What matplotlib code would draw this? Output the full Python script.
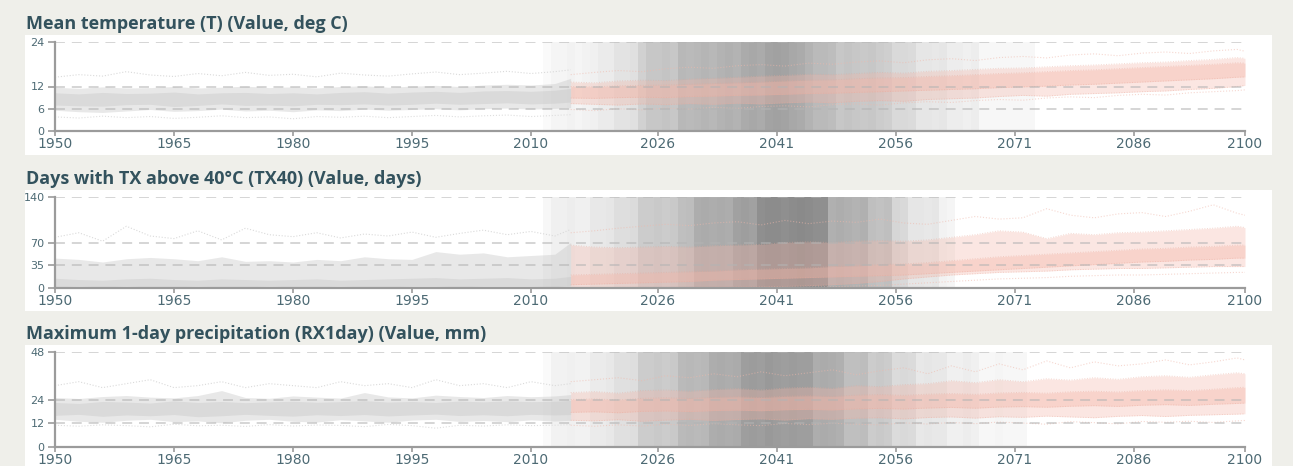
import matplotlib
matplotlib.use("Agg")
import matplotlib.pyplot as plt

W, H = 1293, 466
BG = "#efefea"
TITLE_C = "#33525d"
TICK_C = "#4d6a74"
AXIS_C = "#9b9b9b"

# ---------------------------------------------------------------- data
HIST_YEARS = [1950, 1953, 1956, 1959, 1962, 1965, 1968, 1971, 1974, 1977, 1980, 1983,
              1986, 1989, 1992, 1995, 1998, 2001, 2004, 2007, 2010, 2013, 2015]
PROJ_YEARS = [2015, 2018, 2021, 2024, 2027, 2030, 2033, 2036, 2039, 2042, 2045, 2048,
              2051, 2054, 2057, 2060, 2063, 2066, 2069, 2072, 2075, 2078, 2081, 2084,
              2087, 2090, 2093, 2096, 2099, 2100]
SHADE_YEARS = [2011, 2012, 2013, 2014, 2015, 2016, 2017, 2018, 2019, 2020, 2021, 2022,
               2023, 2024, 2025, 2026, 2027, 2028, 2029, 2030, 2031, 2032, 2033, 2034,
               2035, 2036, 2037, 2038, 2039, 2040, 2041, 2042, 2043, 2044, 2045, 2046,
               2047, 2048, 2049, 2050, 2051, 2052, 2053, 2054, 2055, 2056, 2057, 2058,
               2059, 2060, 2061, 2062, 2063, 2064, 2065, 2066, 2067, 2068, 2069, 2070,
               2071, 2072, 2073, 2074]
X_TICKS = [1950, 1965, 1980, 1995, 2010, 2026, 2041, 2056, 2071, 2086, 2100]

# Mean temperature (deg C)
T_title = "Mean temperature (T) (Value, deg C)"
T_yticks = [0, 6, 12, 24]
T_hist_outer_lo = [5.6, 5.2, 5.0, 5.4, 5.8, 5.3, 5.5, 5.9, 5.4, 5.6, 5.2, 5.7, 5.5, 5.9, 5.6, 5.8, 6.0, 5.7, 6.0, 6.2, 5.9, 6.1, 6.3]
T_hist_outer_hi = [11.8, 11.5, 11.9, 11.6, 11.7, 12.0, 11.6, 11.8, 12.1, 11.7, 11.9, 11.6, 12.0, 12.2, 11.8, 12.1, 12.3, 12.0, 12.4, 12.6, 12.4, 12.8, 14.2]
T_hist_inner_lo = [7.0, 6.8, 6.7, 7.1, 7.2, 6.6, 6.9, 7.3, 6.9, 7.0, 6.8, 7.2, 7.1, 7.3, 7.0, 7.2, 7.5, 7.2, 7.4, 7.6, 7.3, 7.5, 7.8]
T_hist_inner_hi = [10.3, 10.0, 10.4, 10.1, 10.2, 10.5, 10.0, 10.3, 10.4, 10.1, 10.3, 10.0, 10.4, 10.6, 10.2, 10.5, 10.7, 10.4, 10.8, 10.9, 10.7, 11.0, 11.5]
T_hist_top = [14.5, 15.2, 14.8, 16.0, 15.1, 14.7, 15.5, 14.9, 15.8, 15.0, 15.3, 14.6, 15.6, 15.1, 14.8, 15.4, 15.9, 15.2, 15.6, 16.1, 15.5, 16.0, 16.5]
T_hist_bot = [3.8, 3.5, 4.0, 3.6, 3.9, 3.4, 3.7, 4.1, 3.6, 3.8, 3.3, 3.9, 3.7, 4.0, 3.6, 3.9, 4.2, 3.8, 4.1, 4.3, 3.9, 4.2, 4.4]
T_proj_outer_lo = [7.4, 7.2, 7.0, 7.3, 7.1, 7.4, 7.2, 7.5, 7.3, 7.6, 7.8, 7.6, 8.0, 8.2, 8.0, 8.5, 8.7, 8.9, 9.3, 9.6, 9.4, 9.9, 10.1, 10.3, 10.6, 10.8, 11.2, 11.5, 12.0, 12.3]
T_proj_outer_hi = [13.2, 13.0, 13.5, 13.7, 13.6, 14.0, 14.2, 14.5, 14.8, 15.0, 15.3, 15.2, 15.5, 15.8, 15.6, 16.1, 16.3, 16.6, 16.9, 17.0, 17.3, 17.6, 17.8, 18.1, 18.4, 18.6, 19.0, 19.3, 19.8, 19.6]
T_proj_inner_lo = [8.9, 8.8, 9.0, 9.1, 9.0, 9.3, 9.4, 9.6, 9.7, 9.9, 10.1, 10.2, 10.4, 10.6, 10.8, 11.0, 11.2, 11.4, 11.7, 11.9, 12.1, 12.4, 12.6, 12.9, 13.2, 13.5, 13.8, 14.1, 14.5, 14.6]
T_proj_inner_hi = [12.0, 11.9, 12.2, 12.3, 12.4, 12.6, 12.8, 13.0, 13.2, 13.5, 13.7, 13.8, 14.1, 14.3, 14.4, 14.7, 14.9, 15.2, 15.5, 15.7, 16.0, 16.3, 16.5, 16.8, 17.1, 17.4, 17.7, 18.0, 18.4, 18.3]
T_proj_top = [15.2, 15.8, 16.3, 16.0, 16.8, 17.2, 16.9, 17.6, 17.9, 17.5, 18.3, 18.0, 18.6, 18.9, 18.4, 19.2, 19.5, 19.0, 19.8, 20.1, 19.7, 20.5, 20.8, 20.3, 21.0, 21.3, 20.9, 21.6, 22.0, 21.5]
T_proj_bot = [5.8, 5.5, 6.0, 5.7, 6.2, 5.9, 6.4, 6.1, 6.6, 6.8, 6.5, 7.1, 7.3, 7.0, 7.6, 7.9, 7.7, 8.2, 8.5, 8.3, 8.9, 9.2, 9.0, 9.6, 9.9, 9.7, 10.3, 10.6, 10.9, 11.1]
T_shade = [0, .02, .04, .04, .05, .04, .05, .06, .08, .08, .11, .11, .12, .18, .22, .22,
           .23, .22, .28, .27, .28, .29, .28, .30, .31, .30, .33, .34, .33, .36, .37, .36,
           .34, .33, .30, .27, .27, .26, .22, .23, .22, .21, .22, .20, .19, .15, .15, .14,
           .10, .10, .09, .10, .07, .07, .06, .07, .03, .03, .03, .03, .03, .03, .03, 0]

# Days with TX above 40C (days)
X_title = "Days with TX above 40°C (TX40) (Value, days)"
X_yticks = [0, 35, 70, 140]
X_hist_outer_lo = [0.3] * 23
X_hist_outer_hi = [46, 44, 40, 45, 47, 45, 42, 48, 41, 42, 40, 44, 42, 48, 45, 44, 56, 52, 54, 48, 50, 52, 70]
X_hist_inner_lo = [2, 3, 2, 3, 2, 2, 3, 2, 2, 3, 2, 2, 3, 2, 2, 3, 3, 2, 3, 3, 3, 2, 4]
X_hist_inner_hi = [15, 13, 12, 14, 15, 13, 12, 14, 13, 12, 13, 14, 12, 13, 14, 15, 16, 14, 15, 16, 14, 15, 18]
X_hist_top = [78, 85, 72, 95, 80, 76, 88, 74, 92, 82, 79, 85, 77, 83, 80, 86, 78, 84, 89, 82, 87, 80, 90]
X_hist_bot = [0.5] * 23
X_proj_outer_lo = [0.5, 0.5, 0.8, 1.0, 1.0, 1.2, 1.5, 1.8, 2.0, 2.5, 3.5, 5, 7, 10, 14, 17, 20, 22, 24, 25, 26, 28, 29, 30, 30, 31, 32, 33, 33, 33]
X_proj_outer_hi = [66, 63, 62, 63, 64, 63, 65, 66, 67, 70, 71, 70, 72, 73, 72, 74, 78, 82, 88, 86, 76, 84, 82, 85, 86, 88, 90, 92, 95, 93]
X_proj_inner_lo = [5, 6, 7, 8, 9, 10, 12, 13, 14, 15, 16, 17, 18, 19, 20, 22, 24, 26, 28, 30, 32, 34, 36, 38, 40, 41, 43, 44, 46, 46]
X_proj_inner_hi = [20, 21, 22, 23, 24, 25, 26, 28, 29, 30, 31, 33, 34, 36, 37, 39, 42, 45, 48, 50, 52, 54, 56, 58, 60, 61, 63, 64, 66, 66]
X_proj_top = [85, 88, 92, 95, 98, 96, 100, 102, 97, 104, 99, 103, 101, 106, 100, 98, 104, 110, 106, 108, 122, 112, 108, 114, 116, 110, 118, 128, 115, 112]
X_proj_bot = [0.5, 0.5, 0.5, 0.6, 0.6, 0.8, 0.8, 1.0, 1.0, 1.2, 1.5, 2, 3, 4, 6, 8, 10, 12, 14, 15, 16, 18, 19, 20, 20, 21, 22, 23, 24, 24]
X_shade = [0, .03, .06, .06, .07, .06, .06, .09, .09, .10, .13, .13, .14, .20, .20, .21,
           .20, .21, .25, .26, .32, .33, .32, .33, .32, .37, .38, .37, .44, .45, .45, .44,
           .45, .46, .45, .44, .44, .31, .32, .31, .30, .31, .25, .24, .25, .16, .15, .10,
           .10, .09, .10, .05, .04, 0, 0, 0, 0, 0, 0, 0, 0, 0, 0, 0]

# Maximum 1-day precipitation (mm)
R_title = "Maximum 1-day precipitation (RX1day) (Value, mm)"
R_yticks = [0, 12, 24, 48]
R_hist_outer_lo = [14, 13, 12.5, 13.5, 14, 12.8, 13.2, 12.2, 13.5, 14, 13, 12.6, 13.8, 13.2, 12.5, 13.6, 14, 12.9, 13.4, 12.8, 13.7, 13.1, 13.5]
R_hist_outer_hi = [25, 24.5, 25.5, 26, 25.2, 24.8, 26, 28.5, 25, 24.6, 25.8, 25.2, 24.7, 27.5, 25.3, 24.8, 26.2, 25.5, 25, 26, 25.4, 25.8, 26.5]
R_hist_inner_lo = [16, 16.5, 15.5, 16.2, 15.8, 16.4, 15.3, 15.8, 16.5, 16, 15.6, 16.3, 15.9, 16.4, 15.7, 16.2, 16.6, 15.9, 16.3, 15.8, 16.5, 16.2, 16.4]
R_hist_inner_hi = [22.5, 22, 23, 22.7, 22.2, 23.3, 22.5, 23, 22.4, 22.8, 23.1, 22.6, 22.9, 23.4, 22.7, 23, 22.5, 23.2, 22.8, 23.3, 22.9, 23.1, 23.5]
R_hist_top = [31, 33, 30, 32, 34, 30, 31, 33, 30, 32, 31, 30, 33, 31, 32, 30, 34, 31, 32, 30, 33, 31, 32]
R_hist_bot = [11, 10.5, 11.2, 10.8, 10.2, 11.5, 10.7, 11, 10.4, 11.3, 10.6, 11.1, 10.9, 10.3, 11.4, 10.8, 9.5, 11, 10.6, 11.2, 10.8, 11, 11.3]
R_proj_outer_lo = [13.5, 13.2, 13.8, 13.0, 13.6, 14.0, 13.4, 13.9, 14.2, 13.6, 14.3, 14.0, 14.6, 14.8, 14.2, 14.9, 15.2, 14.6, 15.3, 15.0, 15.6, 15.2, 14.8, 15.5, 15.9, 15.4, 16.0, 16.3, 16.6, 16.8]
R_proj_outer_hi = [27.5, 28, 27.2, 28.5, 28.8, 28.2, 29, 29.5, 28.8, 29.8, 30.2, 29.6, 31, 30.5, 31.5, 32, 33.5, 32.5, 34, 33, 34.5, 33.8, 35, 34.2, 35.5, 36, 35.2, 36.5, 37.5, 37]
R_proj_inner_lo = [17.5, 17.8, 17.3, 18, 18.2, 17.9, 18.4, 18.6, 18.3, 18.8, 19, 18.7, 19.3, 19.5, 19.2, 19.7, 20, 19.6, 20.2, 20.4, 20.1, 20.6, 20.9, 20.5, 21.1, 21.4, 21.0, 21.6, 22, 22.2]
R_proj_inner_hi = [24, 24.3, 23.8, 24.6, 24.9, 24.5, 25.1, 25.4, 25, 25.6, 25.9, 25.5, 26.2, 26.5, 26.1, 26.7, 27, 26.6, 27.3, 27.6, 27.2, 27.9, 28.2, 27.8, 28.5, 28.9, 28.5, 29.2, 30, 30.2]
R_proj_top = [33, 34, 35, 33.5, 36, 35, 37, 35.5, 38, 36, 37.5, 39, 36.5, 38.5, 40, 37, 41, 38, 42, 39, 43.5, 40, 43, 41, 42, 44, 41.5, 43, 45, 44]
R_proj_bot = [11, 10.5, 11.2, 10.6, 11.5, 10.9, 11.8, 11.2, 10.8, 11.9, 11.3, 12, 11.5, 11.2, 12.2, 11.6, 12.4, 11.8, 12.6, 12.1, 11.5, 12.8, 12.3, 11.7, 12.9, 12.5, 13, 12.4, 13.2, 13.4]
R_shade = [0, .02, .05, .05, .06, .05, .05, .08, .08, .09, .12, .12, .13, .20, .20, .21,
           .20, .21, .27, .28, .27, .28, .32, .33, .32, .33, .38, .39, .38, .40, .39, .38,
           .39, .38, .38, .32, .33, .32, .31, .25, .25, .26, .20, .21, .20, .14, .15, .14,
           .09, .10, .09, .09, .06, .06, .07, .06, .03, .03, .04, .03, .03, .03, 0, 0]

PANELS = [
    dict(title=T_title, yticks=T_yticks, white=(35, 155), axes=(42, 131), base=29,
         hist=(T_hist_outer_lo, T_hist_outer_hi, T_hist_inner_lo, T_hist_inner_hi, T_hist_top, T_hist_bot),
         proj=(T_proj_outer_lo, T_proj_outer_hi, T_proj_inner_lo, T_proj_inner_hi, T_proj_top, T_proj_bot),
         shade=T_shade),
    dict(title=X_title, yticks=X_yticks, white=(190, 311), axes=(197, 288), base=184,
         hist=(X_hist_outer_lo, X_hist_outer_hi, X_hist_inner_lo, X_hist_inner_hi, X_hist_top, X_hist_bot),
         proj=(X_proj_outer_lo, X_proj_outer_hi, X_proj_inner_lo, X_proj_inner_hi, X_proj_top, X_proj_bot),
         shade=X_shade),
    dict(title=R_title, yticks=R_yticks, white=(345, 466), axes=(352, 447), base=339,
         hist=(R_hist_outer_lo, R_hist_outer_hi, R_hist_inner_lo, R_hist_inner_hi, R_hist_top, R_hist_bot),
         proj=(R_proj_outer_lo, R_proj_outer_hi, R_proj_inner_lo, R_proj_inner_hi, R_proj_top, R_proj_bot),
         shade=R_shade),
]

# ---------------------------------------------------------------- drawing
fig = plt.figure(figsize=(W / 100, H / 100), dpi=100, facecolor=BG)

AX_LEFT, AX_RIGHT = 55, 1245
BOX_LEFT, BOX_RIGHT = 25, 1272


def draw_band(ax, years, lo, hi, color, alpha):
    ax.fill_between(years, lo, hi, color=color, alpha=alpha, lw=0, zorder=2)


for p in PANELS:
    w_top, w_bot = p["white"]
    fig.add_artist(plt.Rectangle((BOX_LEFT / W, 1 - w_bot / H),
                                 (BOX_RIGHT - BOX_LEFT) / W, (w_bot - w_top) / H,
                                 transform=fig.transFigure, facecolor="white",
                                 edgecolor="none", zorder=-10))
    fig.text(BOX_LEFT / W + 1 / W, 1 - p["base"] / H, p["title"], color=TITLE_C,
             fontsize=13, fontweight="bold", family="Open Sans", va="baseline")

    a_top, a_bot = p["axes"]
    ax = fig.add_axes([AX_LEFT / W, 1 - a_bot / H, (AX_RIGHT - AX_LEFT) / W, (a_bot - a_top) / H])
    ax.set_zorder(1)
    ax.patch.set_alpha(0)
    ymax = p["yticks"][-1]
    ax.set_xlim(1950, 2100)
    ax.set_ylim(0, ymax)

    # per-year shading columns
    shade_cols = [str(round(1 - d, 3)) for d in p["shade"]]
    ax.bar(SHADE_YEARS, [ymax] * len(SHADE_YEARS), width=1.02, color=shade_cols,
           linewidth=0, zorder=0.5)

    # historical envelope
    ho_lo, ho_hi, hi_lo, hi_hi, h_top, h_bot = p["hist"]
    draw_band(ax, HIST_YEARS, ho_lo, ho_hi, "#c9c9c9", 0.42)
    draw_band(ax, HIST_YEARS, hi_lo, hi_hi, "#c9c9c9", 0.45)
    ax.plot(HIST_YEARS, h_top, ls=":", color="#dadada", lw=0.8, zorder=2.5)
    ax.plot(HIST_YEARS, h_bot, ls=":", color="#dedede", lw=0.8, zorder=2.5)

    # projected envelope
    po_lo, po_hi, pi_lo, pi_hi, p_top, p_bot = p["proj"]
    draw_band(ax, PROJ_YEARS, po_lo, po_hi, "#f4b6a8", 0.33)
    draw_band(ax, PROJ_YEARS, pi_lo, pi_hi, "#f4b6a8", 0.38)
    ax.plot(PROJ_YEARS, p_top, ls=":", color="#efb8ab", lw=0.8, alpha=0.55, zorder=2.5)
    ax.plot(PROJ_YEARS, p_bot, ls=":", color="#efb8ab", lw=0.8, alpha=0.55, zorder=2.5)
    for edge in (po_lo, po_hi, pi_lo, pi_hi):
        ax.plot(PROJ_YEARS, edge, ls=":", color="#e9a899", lw=0.7, alpha=0.45, zorder=2.6)

    # dashed reference lines
    for v in p["yticks"][1:]:
        ax.axhline(v, color="#b4b4b4", lw=1.1, ls=(0, (6.5, 4.5)), alpha=0.7, zorder=3)

    for side in ("top", "right"):
        ax.spines[side].set_visible(False)
    for side in ("left", "bottom"):
        ax.spines[side].set_color(AXIS_C)
        ax.spines[side].set_linewidth(1.6)
        ax.spines[side].set_zorder(4)

    ax.set_yticks(p["yticks"])
    ax.set_xticks(X_TICKS)
    ax.set_xticklabels([str(t) for t in X_TICKS])
    ax.tick_params(axis="y", length=5, width=1.2, color=AXIS_C, labelsize=8,
                   labelcolor=TICK_C, pad=2.5)
    ax.tick_params(axis="x", length=3.5, width=1.2, color=AXIS_C, labelsize=10,
                   labelcolor=TICK_C, pad=0.5)

fig.savefig("out.png", dpi=100, facecolor=BG)
